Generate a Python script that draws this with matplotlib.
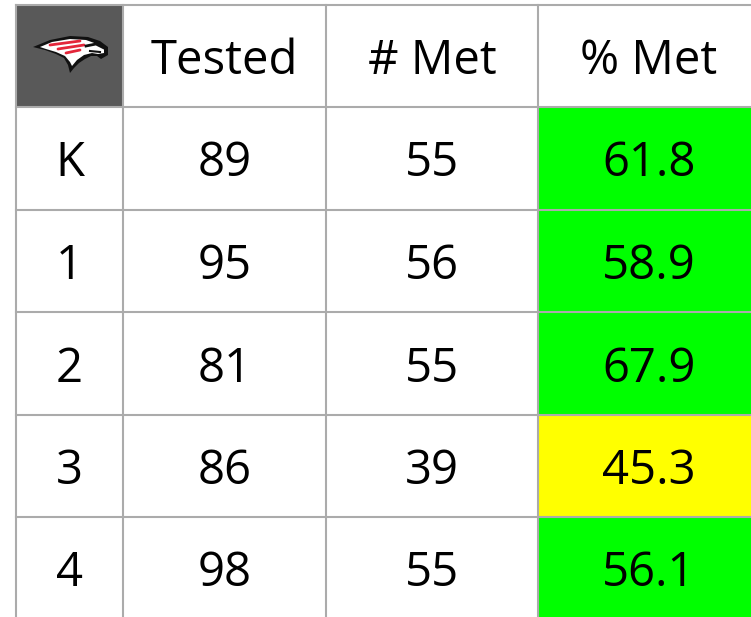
import matplotlib
import matplotlib.pyplot as plt
from matplotlib.patches import Rectangle, Polygon

matplotlib.rcParams['font.family'] = ['Open Sans', 'DejaVu Sans']

headers = ['Tested', '# Met', '% Met']
grades = ['K', '1', '2', '3', '4']
tested = [89, 95, 81, 86, 98]
met = [55, 56, 55, 39, 55]
pct_met = [61.8, 58.9, 67.9, 45.3, 56.1]

target = 50.0
good_color = '#00FF00'
warn_color = '#FFFF00'
line_color = '#ABABAB'
logo_bg = '#595959'

col_edges = [16, 123, 326, 538, 760]
row_edges = [5, 107, 210, 312, 415, 517, 620]

fig = plt.figure(figsize=(7.51, 6.17), dpi=100)
ax = fig.add_axes([0, 0, 1, 1])
ax.set_xlim(0, 751)
ax.set_ylim(617, 0)
ax.axis('off')

fs = 34
base_off = 18  # baseline sits this many px below the cell centre


def cell_center(c, r):
    return ((col_edges[c] + col_edges[c + 1]) / 2, (row_edges[r] + row_edges[r + 1]) / 2)


# logo cell
ax.add_patch(Rectangle((col_edges[0], row_edges[0]), col_edges[1] - col_edges[0],
                       row_edges[1] - row_edges[0], facecolor=logo_bg, edgecolor='none'))

# rough eagle head
outer = [(33, 47), (50, 40), (70, 36), (88, 37), (100, 41), (108, 47), (108, 55), (101, 59),
         (97, 56), (91, 56), (85, 59), (79, 63), (74, 68), (70, 73), (68, 65), (64, 58),
         (56, 54), (45, 50)]
inner = [(40, 47), (52, 42), (70, 39), (86, 40), (97, 44), (104, 48), (104, 53), (98, 54),
         (92, 53), (84, 55), (77, 60), (72, 66), (70, 62), (65, 56), (56, 52), (46, 49)]
ax.add_patch(Polygon(outer, closed=True, facecolor='#111111', edgecolor='none'))
ax.add_patch(Polygon(inner, closed=True, facecolor='white', edgecolor='none'))
for (x0, y0, x1, y1) in [(50, 45, 80, 41), (58, 49, 84, 45), (66, 53, 80, 50)]:
    ax.plot([x0, x1], [y0, y1], color='#E3263A', lw=2.0, solid_capstyle='round')
ax.plot([86, 96, 104], [46, 44, 48], color='#111111', lw=2)
ax.plot([90, 100], [51, 52], color='#111111', lw=1.5)

# header texts
for i, h in enumerate(headers):
    x, y = cell_center(i + 1, 0)
    ax.text(x, y + base_off, h, ha='center', va='baseline', fontsize=fs, color='black')

# body
for r, g in enumerate(grades):
    row = r + 1
    color = good_color if pct_met[r] >= target else warn_color
    ax.add_patch(Rectangle((col_edges[3], row_edges[row]), col_edges[4] - col_edges[3],
                           row_edges[row + 1] - row_edges[row], facecolor=color, edgecolor='none'))
    vals = [g, str(tested[r]), str(met[r]), f'{pct_met[r]:.1f}']
    for c, v in enumerate(vals):
        x, y = cell_center(c, row)
        ax.text(x, y + base_off, v, ha='center', va='baseline', fontsize=fs, color='black')

# grid lines
for x in col_edges[:-1]:
    ax.plot([x, x], [row_edges[0], row_edges[-1]], color=line_color, lw=1.5)
for y in row_edges[:-1]:
    ax.plot([col_edges[0], col_edges[-1]], [y, y], color=line_color, lw=1.5)

fig.savefig('out.png', dpi=100)
plt.close(fig)
